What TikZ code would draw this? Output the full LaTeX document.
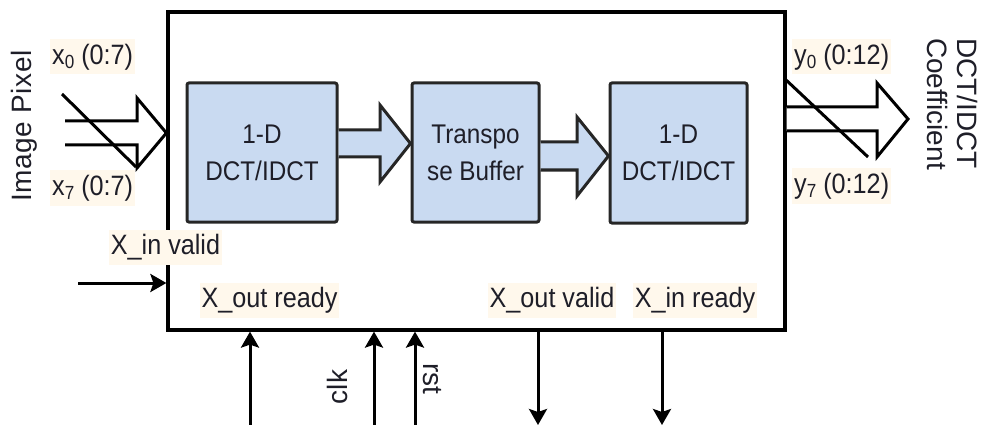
\documentclass[tikz,border=0pt]{standalone}
\usepackage{fontspec}
\setmainfont{Liberation Sans}
\newfontfamily\narrowsans{Liberation Sans}[FakeStretch=0.9]
\newfontfamily\widesans{Liberation Sans}[LetterSpace=2]
\usetikzlibrary{arrows.meta,calc}
\definecolor{blockfill}{RGB}{201,218,241}
\definecolor{tagfill}{RGB}{255,248,236}
\definecolor{ink}{RGB}{30,30,40}
\newcommand{\sub}[1]{\raisebox{-0.3ex}{\fontsize{19}{19}\selectfont #1}}

\begin{document}
\begin{tikzpicture}[x=1pt,y=-1pt,line join=miter,
  mainbox/.style={draw=black,line width=3.2pt,inner sep=0pt,minimum width=617pt,minimum height=318pt},
  block/.style={draw=black!85,line width=3pt,fill=blockfill,rounded corners=2pt,
    minimum height=139pt,inner sep=0pt,align=center,text=ink,
    font=\narrowsans\fontsize{27}{37}\selectfont},
  bus/.style={draw=black,line width=3pt,fill=white},
  busarrow/.style={draw=black!85,line width=3pt,fill=blockfill},
  slash/.style={draw=black,line width=3pt},
  sig/.style={draw=black,line width=3pt,-{Stealth[length=16pt,width=18pt,inset=3pt]}},
  tag/.style={fill=tagfill,text=ink,inner xsep=2pt,minimum height=35pt,
    font=\narrowsans\fontsize{28}{30}\selectfont},
  side/.style={text=ink,inner sep=0pt,font=\fontsize{28}{30}\selectfont}]

\useasboundingbox (0,0) rectangle (988,425);

% outer core and the three processing stages
\node[mainbox] (core) at (476.5,171) {};
\node[block,minimum width=150pt] (dct1) at (262,152.5) {1-D\\DCT/IDCT};
\node[block,minimum width=127pt] (tbuf) at (475.5,152.5) {Transpo\\se Buffer};
\node[block,minimum width=137pt,minimum height=140pt] (dct2) at (678.5,153) {1-D\\DCT/IDCT};

% wide arrows between the stages
\path[busarrow] (dct1.east |- 0,130) -- (380,130) -- (380,105) -- (tbuf.west |- 0,143.5)
  -- (380,182) -- (380,157) -- (dct1.east |- 0,157);
\path[busarrow] (tbuf.east |- 0,142) -- (577,142) -- (577,117) -- (dct2.west |- 0,156)
  -- (577,196) -- (577,170) -- (tbuf.east |- 0,170);

% pixel input bus
\coordinate (xbus) at (65,121);
\path[bus] (xbus) -- (137,121) -- (137,98) -- (core.west |- 0,133) -- (137,168) -- (137,145) -- (65,145);
\coordinate (xs1) at (62,94);
\coordinate (xs2) at (136,167);
\draw[slash] (xs1) -- (xs2);

% coefficient output bus
\path[bus] (core.east |- 0,107) -- (877,107) -- (877,83) -- (908,119) -- (877,157) -- (877,131) -- (core.east |- 0,131);
\coordinate (ys1) at (785,79);
\coordinate (ys2) at (868,157);
\draw[slash] (ys1) -- (ys2);

% bus labels
\node[tag,anchor=west] (x0) at (50,57) {x\sub{0} (0:7)};
\node[tag,anchor=west] (x7) at (50,188) {x\sub{7} (0:7)};
\node[tag,anchor=west] (y0) at (792,57) {y\sub{0} (0:12)};
\node[tag,anchor=west] (y7) at (792,186) {y\sub{7} (0:12)};
\node[side,rotate=90,font=\widesans\fontsize{28}{30}\selectfont] (pix) at (24,126) {Image Pixel};
\node[side,rotate=-90,align=left] (coef) at (952,104) {DCT/IDCT\\Coefficient};

% handshake and control signals
\coordinate (vin) at (78,283);
\draw[sig] (vin) -- (vin -| core.west);
\node[tag] (tinv) at (165.5,247) {X\_in valid};
\node[tag] (toutr) at (269.5,300) {X\_out ready};
\node[tag] (toutv) at (552,300) {X\_out valid};
\node[tag] (tinr) at (695,300) {X\_in ready};

\coordinate (rdy) at (250,425);
\coordinate (clkin) at (374,425);
\coordinate (rstin) at (415,425);
\draw[sig] (rdy) -- (rdy |- core.south);
\draw[sig] (clkin) -- (clkin |- core.south);
\draw[sig] (rstin) -- (rstin |- core.south);
\node[side,rotate=90] (clk) at (337,387) {clk};
\node[side,rotate=-90] (rst) at (432,379) {rst};

\coordinate (vout) at (538,425);
\coordinate (rin) at (662,425);
\draw[sig] (vout |- core.south) -- (vout);
\draw[sig] (rin |- core.south) -- (rin);
\end{tikzpicture}
\end{document}
